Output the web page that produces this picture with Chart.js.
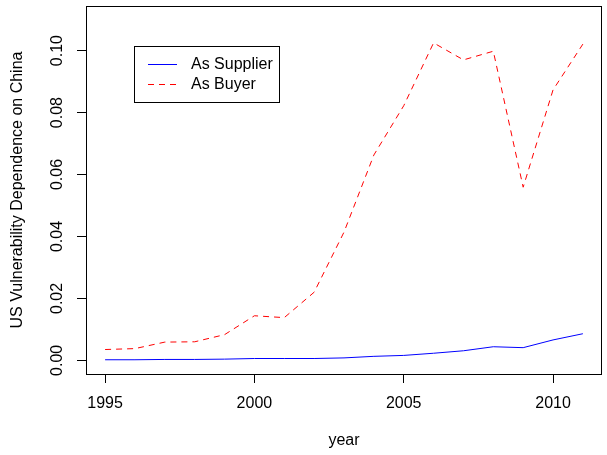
<!DOCTYPE html>
<html>
<head>
<meta charset="utf-8">
<script src="https://cdn.jsdelivr.net/npm/chart.js@4/dist/chart.umd.min.js"></script>
<style>
  html, body { margin: 0; padding: 0; background: #fff; }
  #wrap { width: 607px; height: 455px; }
</style>
</head>
<body>
<div id="wrap"><canvas id="c" width="607" height="455"></canvas></div>
<script>
// Years on the horizontal axis
const years = [1995, 1996, 1997, 1998, 1999, 2000, 2001, 2002, 2003, 2004, 2005, 2006, 2007, 2008, 2009, 2010, 2011];

// US vulnerability dependence on China, by role
const asSupplier = [0.0002, 0.0002, 0.0003, 0.0003, 0.0004, 0.0006, 0.0006, 0.0006, 0.0008, 0.0013, 0.0016, 0.0023, 0.0031, 0.0044, 0.0041, 0.0066, 0.0086];
const asBuyer = [0.0035, 0.0038, 0.0059, 0.0060, 0.0083, 0.0144, 0.0138, 0.0220, 0.0414, 0.0663, 0.0822, 0.1025, 0.0970, 0.0998, 0.0559, 0.0873, 0.1021];

// Tick positions
const xTicks = [1995, 2000, 2005, 2010];
const yTicks = [0.00, 0.02, 0.04, 0.06, 0.08, 0.10];

const FONT = '"Liberation Sans", Arial, Helvetica, sans-serif';

// Axis limits padded 4% beyond the data / y-limits, as in classic base plots
const xMin = 1995 - 0.04 * (2011 - 1995);
const xMax = 2011 + 0.04 * (2011 - 1995);
const yMin = 0 - 0.04 * 0.11;
const yMax = 0.11 + 0.04 * 0.11;

// Frame around the plotting region plus the boxed legend
const framePlugin = {
  id: 'frameAndLegend',
  afterDraw(chart) {
    const { ctx, chartArea: a } = chart;
    ctx.save();
    ctx.strokeStyle = '#000';
    ctx.lineWidth = 1;
    ctx.setLineDash([]);
    const l = Math.round(a.left) + 0.5, t = Math.round(a.top) + 0.5;
    const r = Math.round(a.right) - 0.5, b = Math.round(a.bottom) + 0.5;
    ctx.strokeRect(l, t, r - l, b - t);

    // legend box
    const lx = 134, ly = 46, lw = 145, lh = 56;
    ctx.strokeRect(lx + 0.5, ly + 0.5, lw, lh);
    ctx.font = '16px ' + FONT;
    ctx.textBaseline = 'middle';
    ctx.textAlign = 'left';
    chart.data.datasets.forEach((ds, i) => {
      const y = Math.round(64 + i * 19.5) + 0.5;
      ctx.strokeStyle = ds.borderColor;
      ctx.setLineDash(ds.borderDash || []);
      ctx.beginPath();
      ctx.moveTo(148, y);
      ctx.lineTo(177, y);
      ctx.stroke();
      ctx.fillStyle = '#000';
      ctx.fillText(ds.label, 191, y);
    });
    ctx.restore();
  }
};

new Chart(document.getElementById('c'), {
  type: 'line',
  data: {
    labels: years,
    datasets: [
      {
        label: 'As Supplier',
        data: years.map((y, i) => ({ x: y, y: asSupplier[i] })),
        borderColor: '#0000ff',
        borderWidth: 1,
        pointRadius: 0,
        tension: 0,
        fill: false
      },
      {
        label: 'As Buyer',
        data: years.map((y, i) => ({ x: y, y: asBuyer[i] })),
        borderColor: '#ff0000',
        borderWidth: 1,
        borderDash: [6, 5],
        pointRadius: 0,
        tension: 0,
        fill: false
      }
    ]
  },
  options: {
    responsive: false,
    animation: false,
    devicePixelRatio: 1,
    layout: { padding: { top: 6, right: 5, bottom: 0, left: 0 } },
    plugins: { legend: { display: false }, tooltip: { enabled: false } },
    scales: {
      x: {
        type: 'linear',
        min: xMin,
        max: xMax,
        afterBuildTicks: s => { s.ticks = xTicks.map(v => ({ value: v })); },
        afterFit: s => { s.height = 81; s.paddingLeft = 0; s.paddingRight = 0; s.paddingTop = 0; s.paddingBottom = 0; },
        grid: { drawOnChartArea: false, drawTicks: true, tickLength: 9, color: '#000', lineWidth: 1 },
        border: { display: false },
        ticks: {
          color: '#000',
          font: { family: FONT, size: 16 },
          padding: 11,
          maxRotation: 0,
          autoSkip: false,
          callback: v => String(v)
        },
        title: {
          display: true,
          text: 'year',
          color: '#000',
          font: { family: FONT, size: 16 },
          padding: { top: 0, bottom: 5 }
        }
      },
      y: {
        type: 'linear',
        min: yMin,
        max: yMax,
        afterBuildTicks: s => { s.ticks = yTicks.map(v => ({ value: v })); },
        afterFit: s => { s.width = 86; s.paddingLeft = 0; s.paddingRight = 0; s.paddingTop = 0; s.paddingBottom = 0; },
        grid: { drawOnChartArea: false, drawTicks: true, tickLength: 9, color: '#000', lineWidth: 1 },
        border: { display: false },
        ticks: {
          color: '#000',
          font: { family: FONT, size: 16 },
          padding: 4,
          minRotation: 90,
          maxRotation: 90,
          crossAlign: 'center',
          autoSkip: false,
          callback: v => Number(v).toFixed(2)
        },
        title: {
          display: true,
          text: 'US Vulnerability Dependence on China',
          color: '#000',
          font: { family: FONT, size: 16 },
          padding: { top: 8, bottom: 0 }
        }
      }
    }
  },
  plugins: [framePlugin]
});
</script>
</body>
</html>
